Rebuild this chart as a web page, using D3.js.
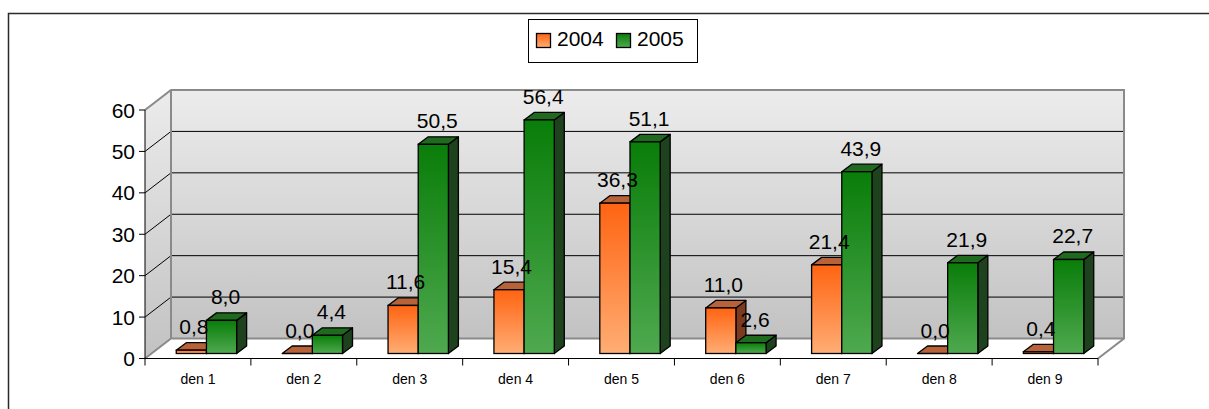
<!DOCTYPE html>
<html>
<head>
<meta charset="utf-8">
<script src="https://cdn.jsdelivr.net/npm/d3@7"></script>
<style>
	html, body { margin: 0; padding: 0; background: #fff; }
	svg { display: block; font-family: Arial, "Liberation Sans", sans-serif; }
</style>
</head>
<body>
<div id="chart"></div>
<script>
const categories = ['den 1', 'den 2', 'den 3', 'den 4', 'den 5', 'den 6', 'den 7', 'den 8', 'den 9']
const seriesNames = ['2004', '2005']
const values2004 = [0.8, 0.0, 11.6, 15.4, 36.3, 11.0, 21.4, 0.0, 0.4]
const values2005 = [8.0, 4.4, 50.5, 56.4, 51.1, 2.6, 43.9, 21.9, 22.7]
const yTicks = [0, 10, 20, 30, 40, 50, 60]

class Chart {
	constructor() {
		this.width = 1209
		this.height = 409
		// wall depth, bar inset into the floor, bar depth
		this.wall = [26, -20]
		this.inset = [8.5, -5]
		this.depth = [10, -7.5]

		this.colors = {
			'2004': { top: '#b8623a', side: '#7c3b1f', grad: ['#ff6412', '#ffad74'] },
			'2005': { top: '#1f6a1f', side: '#1d421d', grad: ['#097d09', '#4fa94f'] },
		}

		this.fmt = d3.formatLocale({ decimal: ',', thousands: ' ', grouping: [3], currency: ['', ''] }).format('.1f')

		this.draw()
	}

	draw() {
		const svg = d3.select('#chart').append('svg')
			.attr('width', this.width)
			.attr('height', this.height)

		const defs = svg.append('defs')

		const wallGrad = defs.append('linearGradient')
			.attr('id', 'wallGrad')
			.attr('x1', 0).attr('y1', 0).attr('x2', 0).attr('y2', 1)
		wallGrad.append('stop').attr('offset', '0%').attr('stop-color', '#ececec')
		wallGrad.append('stop').attr('offset', '100%').attr('stop-color', '#c2c2c2')

		seriesNames.forEach((s, i) => {
			const g = defs.append('linearGradient')
				.attr('id', 'barGrad' + i)
				.attr('x1', 0).attr('y1', 0).attr('x2', 0).attr('y2', 1)
			g.append('stop').attr('offset', '0%').attr('stop-color', this.colors[s].grad[0])
			g.append('stop').attr('offset', '100%').attr('stop-color', this.colors[s].grad[1])
		})

		// outer frame
		svg.append('rect')
			.attr('x', 8.5).attr('y', 13.5)
			.attr('width', 1300).attr('height', 500)
			.attr('fill', 'none')
			.attr('stroke', '#2a2a2a')
			.attr('stroke-width', 1.5)

		const x = d3.scaleBand()
			.domain(categories)
			.range([145, 1098])
			.paddingInner(0.43)
			.paddingOuter(0.215)

		const xAxisScale = d3.scaleBand()
			.domain(categories)
			.range([145, 1098])

		const xs = d3.scaleBand()
			.domain(seriesNames)
			.range([0, x.bandwidth()])

		const y = d3.scaleLinear()
			.domain([0, 60])
			.range([358.5, 110])

		const [wdx, wdy] = this.wall
		const xL = 145, xR = 1098
		const y0 = y(0), yT = y(60)

		// side wall
		svg.append('polygon')
			.attr('points', [[xL, yT], [xL + wdx, yT + wdy], [xL + wdx, y0 + wdy], [xL, y0]].join(' '))
			.attr('fill', 'url(#wallGrad)')

		// back wall
		svg.append('rect')
			.attr('x', xL + wdx).attr('y', yT + wdy)
			.attr('width', xR - xL).attr('height', y0 - yT)
			.attr('fill', 'url(#wallGrad)')

		// floor
		svg.append('polygon')
			.attr('points', [[xL, y0], [xL + wdx, y0 + wdy], [xR + wdx, y0 + wdy], [xR, y0]].join(' '))
			.attr('fill', '#fff')

		// gridlines
		const grid = svg.append('g')
		grid.selectAll('.gback')
			.data(yTicks.filter(d => d > 0 && d < 60))
			.enter().append('line')
			.attr('x1', xL + wdx).attr('x2', xR + wdx)
			.attr('y1', d => y(d) + wdy).attr('y2', d => y(d) + wdy)
			.attr('stroke', '#000').attr('stroke-width', 1)
		grid.selectAll('.gside')
			.data(yTicks.filter(d => d > 0 && d < 60))
			.enter().append('line')
			.attr('x1', xL).attr('x2', xL + wdx)
			.attr('y1', d => y(d)).attr('y2', d => y(d) + wdy)
			.attr('stroke', '#000').attr('stroke-width', 1)

		// wall edges
		const edge = '#8a8a8a'
		svg.append('path')
			.attr('d', `M${xL},${yT}L${xL + wdx},${yT + wdy}L${xR + wdx},${yT + wdy}L${xR + wdx},${y0 + wdy}L${xR},${y0}`)
			.attr('fill', 'none').attr('stroke', edge).attr('stroke-width', 2)
		svg.append('path')
			.attr('d', `M${xL + wdx},${yT + wdy}L${xL + wdx},${y0 + wdy}L${xR + wdx},${y0 + wdy}M${xL},${y0}L${xL + wdx},${y0 + wdy}`)
			.attr('fill', 'none').attr('stroke', edge).attr('stroke-width', 2)

		// y axis
		const yAxis = svg.append('g')
		yAxis.append('line')
			.attr('x1', xL).attr('x2', xL)
			.attr('y1', yT).attr('y2', y0)
			.attr('stroke', '#000')
		yAxis.selectAll('.tick')
			.data(yTicks)
			.enter().append('line')
			.attr('x1', xL - 6).attr('x2', xL)
			.attr('y1', d => y(d)).attr('y2', d => y(d))
			.attr('stroke', '#000')
		yAxis.selectAll('.lbl')
			.data(yTicks)
			.enter().append('text')
			.attr('x', xL - 10)
			.attr('y', d => y(d))
			.attr('dy', '0.36em')
			.attr('text-anchor', 'end')
			.attr('font-size', 21)
			.text(d => d)

		// x axis
		const xAxis = svg.append('g')
		xAxis.append('line')
			.attr('x1', xL).attr('x2', xR)
			.attr('y1', y0).attr('y2', y0)
			.attr('stroke', '#000')
		xAxis.selectAll('.tick')
			.data(categories.concat(['end']))
			.enter().append('line')
			.attr('x1', (d, i) => xL + i * xAxisScale.step())
			.attr('x2', (d, i) => xL + i * xAxisScale.step())
			.attr('y1', y0).attr('y2', y0 + 7)
			.attr('stroke', '#000')
		xAxis.selectAll('.lbl')
			.data(categories)
			.enter().append('text')
			.attr('x', d => xAxisScale(d) + xAxisScale.bandwidth() / 2)
			.attr('y', 384)
			.attr('text-anchor', 'middle')
			.attr('font-size', 14)
			.text(d => d)

		// bars
		const rows = []
		categories.forEach((c, i) => {
			rows.push({ cat: c, series: '2004', value: values2004[i], si: 0 })
			rows.push({ cat: c, series: '2005', value: values2005[i], si: 1 })
		})

		const [idx, idy] = this.inset
		const [bdx, bdy] = this.depth
		const w = xs.bandwidth()

		const bars = svg.append('g')
		const labels = svg.append('g')
		rows.forEach(d => {
			const x0 = x(d.cat) + xs(d.series) + idx
			const yb = y(0) + idy
			const yt = y(d.value) + idy
			const col = this.colors[d.series]
			const g = bars.append('g')

			g.append('polygon')
				.attr('points', [[x0 + w, yt], [x0 + w + bdx, yt + bdy], [x0 + w + bdx, yb + bdy], [x0 + w, yb]].join(' '))
				.attr('fill', col.side)
				.attr('stroke', '#000').attr('stroke-width', 1.3).attr('stroke-linejoin', 'round')
			g.append('polygon')
				.attr('points', [[x0, yt], [x0 + bdx, yt + bdy], [x0 + w + bdx, yt + bdy], [x0 + w, yt]].join(' '))
				.attr('fill', col.top)
				.attr('stroke', '#000').attr('stroke-width', 1.3).attr('stroke-linejoin', 'round')
			g.append('rect')
				.attr('x', x0).attr('y', yt)
				.attr('width', w).attr('height', Math.max(0, yb - yt))
				.attr('fill', `url(#barGrad${d.si})`)
				.attr('stroke', '#000').attr('stroke-width', 1.3)

			labels.append('text')
				.attr('x', x0 + w / 2 + (d.si === 0 ? 2.5 : 4))
				.attr('y', yt + bdy - 8.5)
				.attr('text-anchor', 'middle')
				.attr('font-size', 21)
				.text(this.fmt(d.value))
		})
		labels.raise()

		// legend
		const legend = svg.append('g')
		legend.append('rect')
			.attr('x', 528.5).attr('y', 19.5)
			.attr('width', 169).attr('height', 43)
			.attr('fill', '#fff')
			.attr('stroke', '#000')
		const items = legend.selectAll('.item')
			.data(seriesNames)
			.enter().append('g')
			.attr('transform', (d, i) => `translate(${536 + i * 80},0)`)
		items.append('rect')
			.attr('x', 0.5).attr('y', 33.5)
			.attr('width', 14).attr('height', 14)
			.attr('fill', (d, i) => `url(#barGrad${i})`)
			.attr('stroke', '#000').attr('stroke-width', 1.3)
		items.append('text')
			.attr('x', 21)
			.attr('y', 45.5)
			.attr('font-size', 21)
			.text(d => d)
	}
}

document.addEventListener('DOMContentLoaded', () => {
	window.chart = new Chart()
})
</script>
</body>
</html>
